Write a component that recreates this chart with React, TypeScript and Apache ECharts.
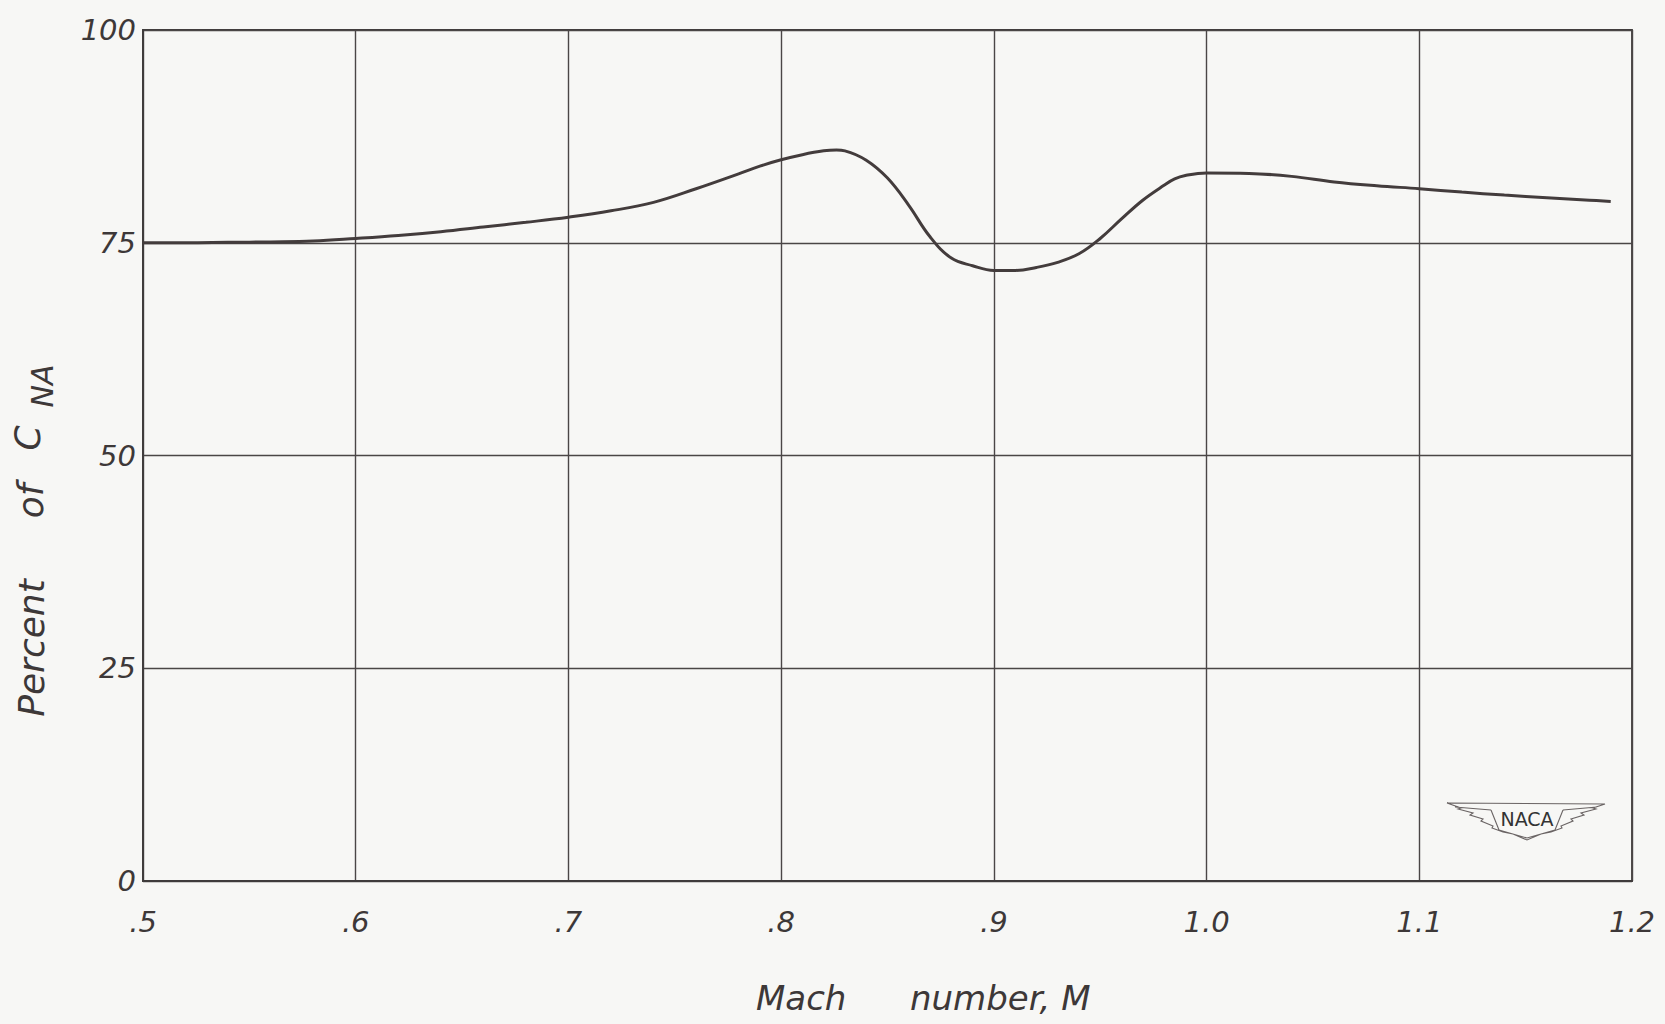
import React, { useEffect, useRef } from "react";
import * as echarts from "echarts";

// ---- data ----
const machValues = [
  0.5, 0.52, 0.54, 0.56, 0.58, 0.6, 0.62, 0.64, 0.66, 0.68, 0.7, 0.72, 0.74, 0.76, 0.78, 0.79,
  0.8, 0.81, 0.82, 0.826, 0.83, 0.84, 0.85, 0.86, 0.87, 0.88, 0.89, 0.9, 0.91, 0.92, 0.93,
  0.94, 0.95, 0.96, 0.97, 0.98, 0.985, 0.99, 1.0, 1.02, 1.04, 1.06, 1.08, 1.1, 1.12, 1.14,
  1.16, 1.18, 1.19,
];
const percentValues = [
  75.0, 75.0, 75.05, 75.1, 75.2, 75.5, 75.85, 76.3, 76.85, 77.4, 78.0, 78.75, 79.75, 81.35,
  83.1, 84.0, 84.75, 85.35, 85.8, 85.9, 85.8, 84.7, 82.6, 79.4, 75.7, 73.2, 72.3, 71.75, 71.75,
  72.1, 72.7, 73.7, 75.5, 77.8, 80.0, 81.75, 82.5, 82.9, 83.2, 83.15, 82.8, 82.15, 81.7, 81.35,
  80.95, 80.6, 80.3, 80.0, 79.85,
];
const xTickLabels = [".5", ".6", ".7", ".8", ".9", "1.0", "1.1", "1.2"];
const yTickLabels = ["0", "25", "50", "75", "100"];
const xAxisTitleWords = ["Mach", "number, M"];
const yAxisTitleWords = ["Percent", "of", "C", "NA"];
const logoText = "NACA";

const WING_PATH =
  "M0,0 L158,1 L146,5 L149,6 L134,10 L137,12 L124,16 L126,18 L114,23 L115,25 L104,29 L94,31 L80,37 " +
  "L66,31 L56,29 L45,25 L46,23 L34,18 L36,16 L23,12 L26,10 L11,6 L14,5 Z " +
  "M8,4 L44,7 M116,7 L150,4 M44,7 L52,27 L80,35 L108,27 L116,7";
echarts.graphic.registerShape("nacawings", echarts.graphic.extendPath(WING_PATH, {}) as any);

const INK = "#3d3838";
const FONT = "'DejaVu Sans', 'Liberation Sans', sans-serif";

function yTitle(text: string, x: number, y: number, size: number) {
  return {
    type: "text",
    x,
    y,
    rotation: Math.PI / 2,
    style: {
      text,
      fill: INK,
      align: "center",
      verticalAlign: "middle",
      textAlign: "center",
      textVerticalAlign: "middle",
      fontSize: size,
      fontStyle: "italic",
      fontFamily: FONT,
    },
  };
}

export default function App() {
  const ref = useRef<HTMLDivElement>(null);
  useEffect(() => {
    if (!ref.current) return;
    const chart = echarts.init(ref.current, null, { renderer: "svg" });
    const option: any = {
      animation: false,
      backgroundColor: "#f7f7f5",
      grid: {
        left: 143,
        top: 30,
        right: 33,
        bottom: 143,
        show: true,
        borderColor: "#3f3b3b",
        borderWidth: 1.8,
        backgroundColor: "transparent",
      },
      xAxis: {
        type: "value",
        min: 0.5,
        max: 1.2,
        interval: 0.1,
        axisLine: { show: true, lineStyle: { color: "#3f3b3b", width: 1.8 } },
        axisTick: { show: false },
        splitLine: { show: true, lineStyle: { color: "#4a4646", width: 1.4 } },
        axisLabel: {
          margin: 26,
          fontSize: 29,
          fontStyle: "italic",
          fontFamily: FONT,
          color: INK,
          formatter: (v: number) => xTickLabels[Math.round((v - 0.5) * 10)] ?? "",
        },
      },
      yAxis: {
        type: "value",
        min: 0,
        max: 100,
        interval: 25,
        axisLine: { show: true, lineStyle: { color: "#3f3b3b", width: 1.8 } },
        axisTick: { show: false },
        splitLine: { show: true, lineStyle: { color: "#4a4646", width: 1.4 } },
        axisLabel: {
          margin: 7,
          fontSize: 29,
          fontStyle: "italic",
          fontFamily: FONT,
          color: INK,
          padding: [0, 0, 16, 0],
          formatter: (v: number) => yTickLabels[Math.round(v / 25)] ?? "",
        },
      },
      series: [
        {
          type: "line",
          data: machValues.map((m, i) => [m, percentValues[i]]),
          showSymbol: false,
          smooth: 0.4,
          lineStyle: { color: "#433c3c", width: 3 },
          z: 5,
        },
      ],
      graphic: [
        {
          type: "text",
          x: 756,
          y: 998,
          style: {
            text: `{m|${xAxisTitleWords[0]}}{n|${xAxisTitleWords[1]}}`,
            fill: INK,
            align: "left",
            verticalAlign: "middle",
            textAlign: "left",
            textVerticalAlign: "middle",
            rich: {
              m: { width: 154, fontSize: 34, fontStyle: "italic", fontFamily: FONT, fill: INK, color: INK },
              n: { fontSize: 34, fontStyle: "italic", fontFamily: FONT, fill: INK, color: INK },
            },
          },
        },
        yTitle(yAxisTitleWords[0], 31, 648, 36),
        yTitle(yAxisTitleWords[1], 30, 501, 36),
        yTitle(yAxisTitleWords[2], 27, 438, 36),
        yTitle(yAxisTitleWords[3], 42, 386, 30),
        {
          type: "nacawings",
          x: 1447,
          y: 803,
          scaleX: 1,
          scaleY: 1,
          z: 10,
          style: { fill: "none", stroke: "#6a6464", lineWidth: 1.1 },
        },
        {
          type: "text",
          x: 1527,
          y: 819,
          z: 11,
          style: {
            text: logoText,
            fill: "#333",
            align: "center",
            verticalAlign: "middle",
            textAlign: "center",
            textVerticalAlign: "middle",
            fontSize: 19,
            fontFamily: FONT,
          },
        },
      ],
    };
    chart.setOption(option);
    return () => chart.dispose();
  }, []);
  return (
    <div
      ref={ref}
      style={{ position: "fixed", left: 0, top: 0, width: 1665, height: 1024 }}
    />
  );
}
